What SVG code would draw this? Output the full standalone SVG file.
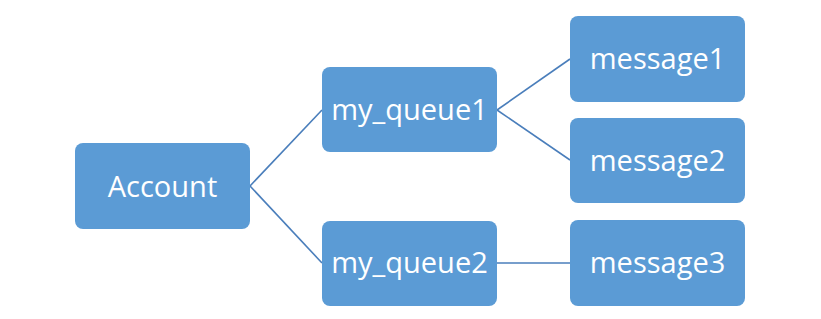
<svg xmlns="http://www.w3.org/2000/svg" width="821" height="319" viewBox="0 0 821 319">
<style>
.box{fill:#5B9BD5;}
.lbl{fill:#fff;font-family:"Open Sans","Noto Sans",sans-serif;font-size:29px;text-anchor:middle;dominant-baseline:central;}
.con{stroke:#4A7EBB;stroke-width:1.6;fill:none;}
</style>
<rect width="821" height="319" fill="#fff"/>
<g id="connectors">
<line class="con" x1="250" y1="186" x2="322" y2="110"/>
<line class="con" x1="250" y1="186" x2="322" y2="263"/>
<line class="con" x1="497" y1="110" x2="570" y2="59"/>
<line class="con" x1="497" y1="110" x2="570" y2="160"/>
<line class="con" x1="497" y1="263" x2="570" y2="263"/>
</g>
<g id="account"><rect class="box" x="75" y="143" width="175" height="86" rx="8"/><text class="lbl" x="162.5" y="185">Account</text></g>
<g id="my_queue1"><rect class="box" x="322" y="67" width="175" height="85" rx="8"/><text class="lbl" x="409.5" y="108">my_queue1</text></g>
<g id="my_queue2"><rect class="box" x="322" y="221" width="175" height="85" rx="8"/><text class="lbl" x="409.5" y="261">my_queue2</text></g>
<g id="message1"><rect class="box" x="570" y="16" width="175" height="86" rx="8"/><text class="lbl" x="657.5" y="57">message1</text></g>
<g id="message2"><rect class="box" x="570" y="118" width="175" height="85" rx="8"/><text class="lbl" x="657.5" y="159">message2</text></g>
<g id="message3"><rect class="box" x="570" y="220" width="175" height="86" rx="8"/><text class="lbl" x="657.5" y="261">message3</text></g>
</svg>
